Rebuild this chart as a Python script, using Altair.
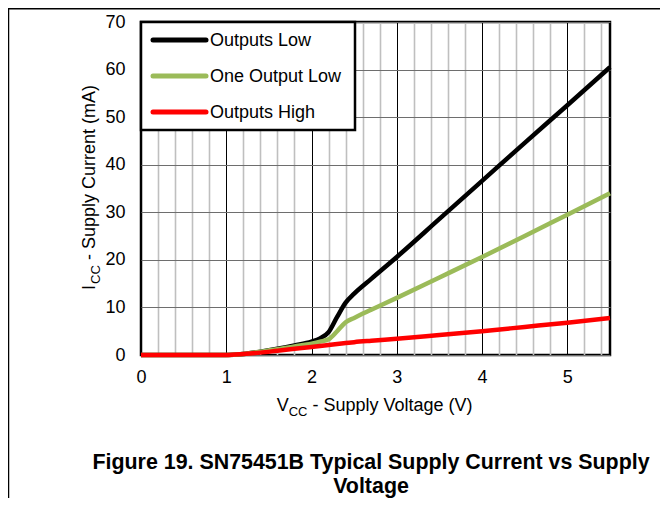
import altair as alt
import pandas as pd

# ---- data ----
voltage = [0, 0.5, 1.0, 1.2, 1.4, 1.6, 1.8, 2.0, 2.1, 2.2, 2.3, 2.4, 2.5, 2.7, 3.0, 3.5, 4.0, 4.5, 5.0, 5.5]
outputs_low = [0, 0, 0, 0.2, 0.7, 1.3, 2.0, 2.8, 3.5, 4.8, 8.0, 11.0, 12.9, 16.0, 20.6, 28.6, 36.6, 44.6, 52.5, 60.5]
one_output_low = [0, 0, 0, 0.2, 0.7, 1.2, 1.8, 2.4, 2.8, 3.3, 5.0, 6.9, 7.8, 9.5, 12.0, 16.3, 20.6, 25.0, 29.5, 34.0]
outputs_high = [0, 0, 0, 0.2, 0.5, 0.9, 1.3, 1.7, 1.9, 2.1, 2.3, 2.5, 2.7, 3.0, 3.4, 4.2, 5.0, 5.9, 6.8, 7.8]

series_names = ["Outputs Low", "One Output Low", "Outputs High"]
series_colors = ["#000000", "#9BBB59", "#FF0000"]

x_ticks = [round(0.2 * i, 1) for i in range(28)]
y_ticks = [0, 10, 20, 30, 40, 50, 60, 70]

x_title = ["V", "CC", "- Supply Voltage (V)"]
y_title = ["I", "CC", "- Supply Current (mA)"]
caption = ["Figure 19. SN75451B Typical Supply Current vs Supply", "Voltage"]

# ---- build ----
W, H = 469, 333
FONT = "Liberation Sans"

rows = []
for name, vals in zip(series_names, [outputs_low, one_output_low, outputs_high]):
    for v, c in zip(voltage, vals):
        rows.append({"V": v, "I": c, "series": name})
df = pd.DataFrame(rows)
one = pd.DataFrame({"k": [0]})

int_test = "abs(datum.value - round(datum.value)) < 0.01"

xenc = alt.X(
    "V:Q",
    scale=alt.Scale(domain=[0, 5.5], nice=False, zero=False),
    axis=alt.Axis(
        values=x_ticks,
        title=None,
        labelExpr=f"{int_test} ? format(round(datum.value), 'd') : ''",
        labelOverlap=False,
        labelFlush=False,
        labelPadding=13,
        gridColor={"condition": {"test": int_test, "value": "#000000"}, "value": "#BFBFBF"},
        gridWidth={"condition": {"test": int_test, "value": 1}, "value": 1.6},
    ),
)
yenc = alt.Y(
    "I:Q",
    scale=alt.Scale(domain=[0, 70], nice=False),
    axis=alt.Axis(
        values=y_ticks,
        title=None,
        labelPadding=16,
        gridColor="#6E6E6E",
        gridWidth=1,
        labelFlush=False,
    ),
)

layers = []
for name, color in zip(series_names, series_colors):
    layers.append(
        alt.Chart(df)
        .transform_filter(alt.datum.series == name)
        .mark_line(strokeWidth=4.5, interpolate="monotone", strokeJoin="round", strokeCap="butt")
        .encode(x=xenc, y=yenc, color=alt.value(color))
    )

# legend box
layers.append(
    alt.Chart(one)
    .mark_rect(fill="white", stroke="black", strokeWidth=2.5)
    .encode(x=alt.value(0), x2=alt.value(214), y=alt.value(0), y2=alt.value(108))
)
for i, (name, color) in enumerate(zip(series_names, series_colors)):
    yy = 18 + 36 * i
    layers.append(
        alt.Chart(one)
        .mark_rule(strokeWidth=5, strokeCap="round")
        .encode(x=alt.value(12), x2=alt.value(65), y=alt.value(yy), color=alt.value(color))
    )
    layers.append(
        alt.Chart(one)
        .mark_text(align="left", baseline="middle", font=FONT, fontSize=18, color="black")
        .encode(x=alt.value(69), y=alt.value(yy + 1), text=alt.value(name))
    )

# x axis title with subscript
layers.append(alt.Chart(one).mark_text(align="left", baseline="alphabetic", font=FONT, fontSize=18, color="black")
              .encode(x=alt.value(135.7), y=alt.value(389), text=alt.value(x_title[0])))
layers.append(alt.Chart(one).mark_text(align="left", baseline="alphabetic", font=FONT, fontSize=13, color="black")
              .encode(x=alt.value(147.7), y=alt.value(393.5), text=alt.value(x_title[1])))
layers.append(alt.Chart(one).mark_text(align="left", baseline="alphabetic", font=FONT, fontSize=18, color="black")
              .encode(x=alt.value(171.5), y=alt.value(389), text=alt.value(x_title[2])))

# y axis title with subscript (rotated)
layers.append(alt.Chart(one).mark_text(align="left", baseline="alphabetic", angle=270, font=FONT, fontSize=18, color="black")
              .encode(x=alt.value(-46), y=alt.value(268), text=alt.value(y_title[0])))
layers.append(alt.Chart(one).mark_text(align="left", baseline="alphabetic", angle=270, font=FONT, fontSize=13, color="black")
              .encode(x=alt.value(-41.5), y=alt.value(262), text=alt.value(y_title[1])))
layers.append(alt.Chart(one).mark_text(align="left", baseline="alphabetic", angle=270, font=FONT, fontSize=18, color="black")
              .encode(x=alt.value(-46), y=alt.value(238), text=alt.value(y_title[2])))

# caption
layers.append(alt.Chart(one).mark_text(align="center", baseline="alphabetic", font=FONT, fontSize=21.4,
                                       fontWeight="bold", color="black", lineHeight=24)
              .encode(x=alt.value(230), y=alt.value(447), text=alt.value(caption)))

# outer frame (top and left edges)
layers.append(alt.Chart(one).mark_rule(strokeWidth=1.5, color="black")
              .encode(x=alt.value(-133), x2=alt.value(W + 50), y=alt.value(-13.3)))
layers.append(alt.Chart(one).mark_rule(strokeWidth=1.5, color="black")
              .encode(x=alt.value(-132.5), y=alt.value(-14), y2=alt.value(H + 143)))

chart = (
    alt.layer(*layers)
    .properties(
        width=W,
        height=H,
        padding={"left": 133, "top": 14, "right": 50, "bottom": 143},
        autosize=alt.AutoSizeParams(type="none"),
        background="white",
    )
    .configure_view(stroke="black", strokeWidth=2.5)
    .configure_axis(
        domain=False,
        ticks=False,
        tickSize=0,
        labelFont=FONT,
        labelFontSize=18,
        labelColor="black",
    )
)

chart.save("out.html", embed_options={"renderer": "svg", "actions": False})
